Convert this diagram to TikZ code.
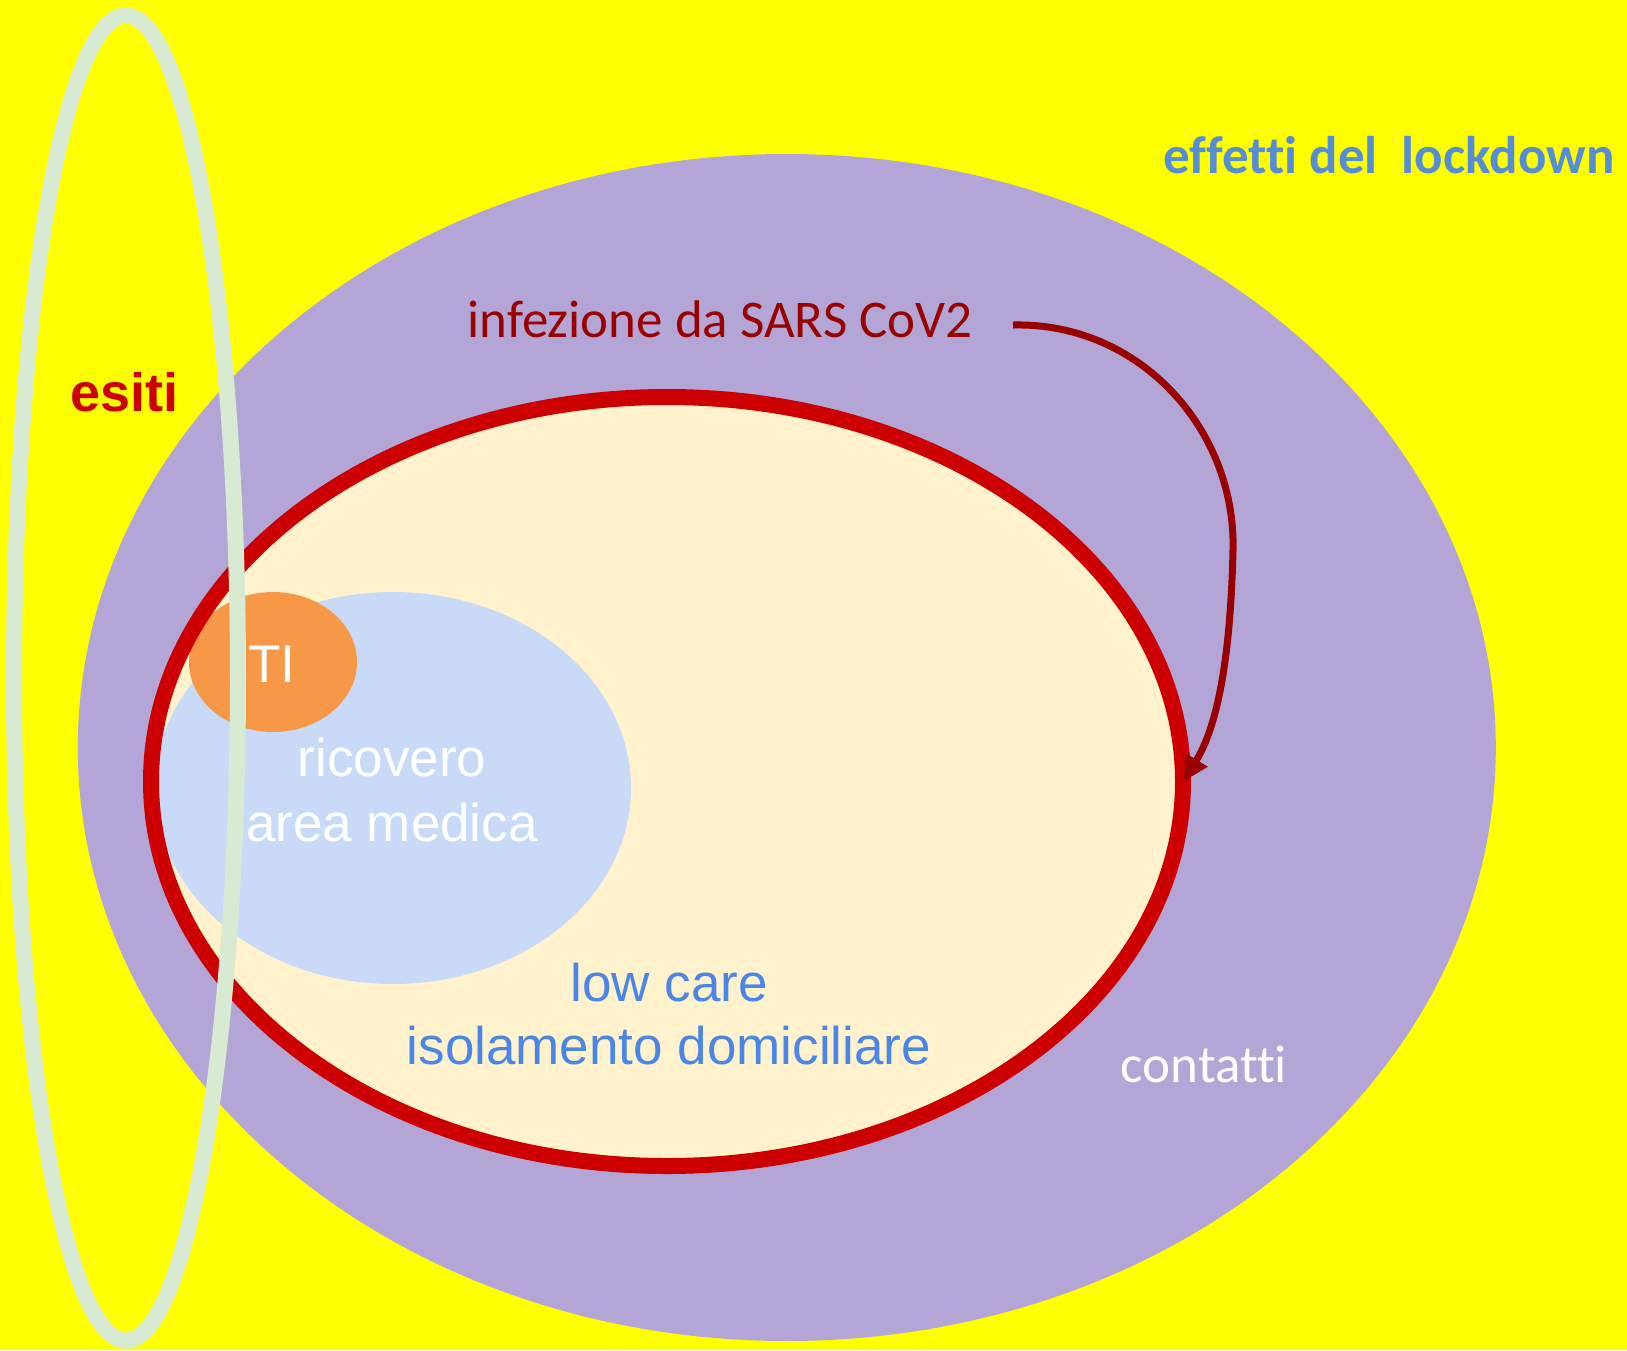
\documentclass[tikz,border=0pt]{standalone}
\usepackage{fontspec}
\setmainfont{Liberation Sans}
\newfontfamily\calibri[Ligatures=NoCommon,RawFeature={-liga;-clig;-dlig}]{Carlito}
\usetikzlibrary{arrows.meta}
\definecolor{bgyellow}{RGB}{255,255,0}
\definecolor{lilac}{RGB}{179,166,214}
\definecolor{cream}{RGB}{255,242,204}
\definecolor{ringred}{RGB}{204,0,0}
\definecolor{paleblue}{RGB}{201,218,248}
\definecolor{tiorange}{RGB}{247,152,72}
\definecolor{palegreen}{RGB}{217,234,211}
\definecolor{darkred}{RGB}{153,0,0}
\definecolor{lockblue}{RGB}{85,142,213}
\definecolor{careblue}{RGB}{74,134,232}
\begin{document}
\begin{tikzpicture}[x=1pt,y=-1pt,
  lbl/.style={inner sep=0pt,anchor=base,font=\fontsize{53}{63}\selectfont},
  cal/.style={lbl,font=\fontsize{53}{63}\selectfont\calibri}]
\useasboundingbox (0,0) rectangle (1627,1350);
\fill[bgyellow] (0,0) rectangle (1627,1350);
% contacts
\fill[lilac] (786.8,747.5) ellipse [x radius=709pt, y radius=593.5pt];
% infection set
\fill[cream] (667,781.5) ellipse [x radius=516pt, y radius=384.5pt];
% hospital
\fill[paleblue] (393,788) ellipse [x radius=238pt, y radius=196pt];
% ICU
\fill[tiorange] (273,662) ellipse [x radius=84pt, y radius=70pt];
\draw[ringred,line width=16pt] (667,781.5) ellipse [x radius=516pt, y radius=384.5pt];
% outcomes
\draw[palegreen,line width=16pt] (126,678) ellipse [x radius=112pt, y radius=662.5pt];
% texts
\node[cal,font=\fontsize{53}{63}\selectfont\calibri\bfseries,text=lockblue] (lock) at (1389,173) {effetti del\ \ lockdown};
\node[cal,text=darkred] (inf) at (720,337) {infezione da SARS CoV2};
\node[lbl,font=\fontsize{54}{64}\selectfont\bfseries,text=ringred] (esiti) at (124.5,411) {esiti};
\node[lbl,text=white] (ti) at (272,682) {TI};
\node[lbl,text=white] (ric1) at (392,776) {ricovero};
\node[lbl,text=white] (ric2) at (392,841) {area medica};
\node[lbl,text=careblue] (low1) at (669,1001) {low care};
\node[lbl,text=careblue] (low2) at (669,1064) {isolamento domiciliare};
\node[cal,text=white] (cont) at (1204,1082) {contatti};
% arrow
\coordinate (arrstart) at (1013,325);
\coordinate (arrend) at (1183,782);
\draw[darkred,line width=7pt,-{Triangle[length=26pt,width=24pt]}]
  (arrstart) .. controls (1140,322) and (1236,430) .. (1233,550)
  .. controls (1230,680) and (1212,735) .. (arrend);
\end{tikzpicture}
\end{document}
